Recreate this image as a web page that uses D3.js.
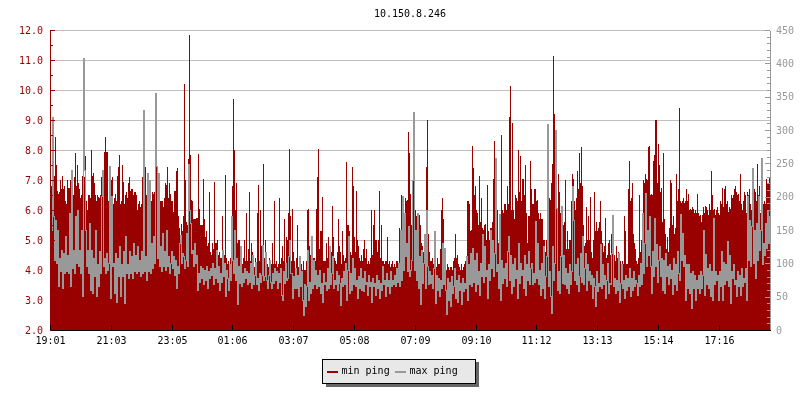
<!DOCTYPE html>
<html><head><meta charset="utf-8">
<script src="https://cdn.jsdelivr.net/npm/d3@7"></script>
<style>
html,body{margin:0;padding:0;background:#fff;}
svg{display:block;will-change:transform;}
text{font-family:"DejaVu Sans Mono",monospace;font-size:10px;}
</style></head><body>
<div id="c"></div>
<script>
const title = "10.150.8.246";
const seriesNames = ["min ping","max ping"];
const xTickLabels = ["19:01","21:03","23:05","01:06","03:07","05:08","07:09","09:10","11:12","13:13","15:14","17:16"];
const xTickMinutes = [0,122,244,364,486,608,730,852,972,1094,1216,1338];
const minPing = [
6.8,6.7,6.7,7.15,8.45,7.5,6.65,6.55,6.6,7.0,
6.7,7.15,6.7,6.8,6.3,6.2,7.0,6.75,6.75,7.0,
6.75,6.5,6.5,7.1,7.9,6.8,7.5,6.9,6.7,6.4,
6.5,7.15,7.1,7.1,7.8,6.3,6.0,6.5,6.5,6.4,
8.0,7.15,7.25,6.9,6.5,6.3,6.5,6.45,6.4,6.5,
7.1,6.9,7.25,7.95,8.45,7.95,7.95,6.3,6.1,6.6,
7.0,7.1,6.2,6.4,6.55,6.3,7.15,7.45,7.85,6.2,
6.3,7.5,6.95,6.2,6.5,6.6,6.4,6.9,7.1,6.65,
6.7,6.7,6.5,6.6,6.6,6.5,6.0,6.2,6.3,6.1,
6.2,7.1,7.1,7.1,7.45,6.5,6.4,6.2,6.7,6.2,
6.3,6.6,6.55,6.6,6.4,8.07,6.6,6.5,6.6,6.3,
6.3,6.3,6.1,6.4,6.9,6.85,7.45,6.4,6.9,6.55,
6.3,6.3,5.95,6.65,6.65,7.3,7.4,5.8,5.4,5.1,
5.55,5.3,5.8,10.2,7.0,5.6,5.5,7.7,11.85,7.85,
6.35,6.3,5.7,5.7,5.7,5.75,5.75,7.87,6.05,5.5,
5.5,5.5,7.05,5.7,5.1,5.3,4.8,4.9,6.6,4.6,
4.5,4.9,4.7,6.95,4.9,4.9,5.0,4.5,4.6,4.4,
4.4,5.8,4.4,4.5,7.17,4.4,4.2,4.3,4.1,4.4,
4.4,6.8,9.7,8.0,6.0,6.9,4.9,5.0,5.0,4.7,
4.4,4.2,4.4,5.0,4.3,5.9,4.3,4.7,6.6,4.3,
4.9,4.6,4.3,4.1,4.4,4.2,5.9,6.85,4.3,6.0,
4.8,4.2,7.55,4.4,5.0,4.3,4.2,4.1,4.4,4.1,
4.2,4.9,4.2,6.3,4.2,4.3,4.1,4.2,6.4,4.2,
4.4,4.8,4.3,5.7,4.2,5.1,5.0,5.9,8.05,5.8,
4.3,6.05,4.6,4.3,4.0,4.4,5.5,4.1,4.3,4.1,
4.2,4.0,4.3,4.0,4.0,4.3,6.0,6.05,4.8,4.5,
5.0,4.3,4.4,4.4,4.3,6.05,7.1,8.05,4.7,5.3,
5.3,6.45,4.3,4.3,4.3,4.9,4.4,5.1,4.8,4.5,
4.6,6.15,5.1,4.4,4.3,4.2,4.6,5.7,4.8,4.6,
4.2,5.3,4.5,4.3,4.4,7.6,5.5,5.5,5.3,4.6,
4.5,7.45,6.8,5.1,4.6,6.65,5.0,4.8,4.4,4.3,
4.5,4.3,4.7,5.0,4.4,4.7,4.2,4.3,4.2,4.4,
6.0,4.5,5.5,6.0,5.0,5.0,4.6,5.0,6.65,4.4,
5.5,4.3,4.3,4.2,4.3,4.3,5.1,4.2,4.3,4.1,
4.2,4.3,4.1,4.2,4.1,4.3,4.3,4.2,5.4,5.0,
6.5,5.6,6.05,5.7,6.4,6.3,6.35,8.6,7.9,6.55,
5.5,7.0,7.0,6.3,6.0,5.8,5.3,5.2,5.85,5.5,
4.9,4.8,4.6,5.2,5.0,7.45,9.0,5.2,4.6,4.3,
4.3,4.4,4.2,4.5,4.2,4.1,4.4,4.2,4.2,4.7,
6.0,6.4,5.7,4.7,4.1,4.0,4.2,4.1,4.0,4.1,
4.1,4.0,4.3,4.4,5.2,4.4,4.5,4.2,4.1,4.0,
4.2,4.0,4.1,4.2,4.3,4.4,6.3,6.3,6.2,5.3,
5.35,8.15,7.4,6.5,6.8,6.0,5.9,5.5,7.15,5.6,
6.4,5.4,5.35,5.5,5.55,5.0,6.85,5.3,5.0,5.4,
5.4,5.6,7.05,8.3,6.4,5.8,6.0,4.9,5.0,5.8,
8.5,6.0,5.9,6.2,6.2,6.0,6.8,6.2,9.1,10.15,
6.0,8.9,6.0,5.7,6.5,6.4,6.3,8.0,6.6,7.8,
6.3,7.05,7.05,6.5,7.5,5.9,4.9,5.8,5.8,7.65,
6.7,6.2,6.2,6.7,6.7,6.3,6.35,5.9,5.7,5.9,
5.7,5.7,5.0,5.0,4.6,5.0,6.0,6.6,6.4,6.35,
6.9,7.55,11.15,9.2,8.1,8.0,6.0,7.2,6.6,5.9,
5.9,5.7,5.5,5.6,7.0,4.7,5.3,4.7,5.0,5.0,
6.3,7.2,7.05,6.3,6.0,6.4,7.3,6.7,7.9,6.9,
8.1,6.8,5.5,4.8,4.9,6.1,5.0,5.8,5.0,6.45,
4.6,4.4,5.0,6.6,5.3,5.6,5.3,5.4,5.6,6.3,
5.3,4.9,4.6,4.8,5.75,4.4,4.5,4.9,5.0,4.5,
5.2,4.8,4.4,4.5,4.3,4.8,4.4,4.6,4.3,4.3,
4.2,4.3,4.2,5.8,5.3,4.2,4.2,6.7,7.65,6.3,
6.4,6.9,5.2,4.9,4.7,4.3,4.2,4.4,6.5,4.6,
5.0,4.9,7.0,6.9,7.2,7.05,7.0,8.1,8.15,6.5,
6.55,6.5,7.65,7.85,9.0,9.0,6.9,8.2,7.5,6.6,
6.75,5.6,7.9,5.7,5.2,4.7,5.1,4.6,5.4,7.0,
6.9,5.5,5.8,5.2,5.4,7.2,6.3,6.7,9.4,6.3,
6.25,6.3,6.4,6.25,6.3,6.7,6.3,6.55,6.0,6.05,
6.0,6.1,6.05,5.9,6.0,5.9,6.55,5.9,5.8,5.85,
5.6,5.85,6.1,5.9,6.15,6.1,6.0,5.85,6.2,6.0,
7.3,6.5,6.0,6.05,5.85,6.0,6.1,5.9,5.85,6.3,
6.2,6.75,6.1,6.7,6.8,6.2,6.3,5.95,6.1,6.05,
6.5,6.4,6.5,6.7,6.8,6.6,6.5,6.55,6.3,7.2,
6.2,6.0,6.3,6.6,6.5,5.9,6.6,6.5,6.7,6.2,
6.0,6.6,6.5,6.7,6.6,6.3,7.55,6.5,6.8,5.9,
6.0,5.9,6.2,6.3,6.2,7.05,6.9,6.9,7.1,7.0
];
const maxPing = [
150,319,170,105,165,100,150,65,108,88,
120,62,115,85,140,88,112,85,175,65,
240,92,120,85,170,100,180,95,120,85,
150,50,407,240,150,95,120,85,160,60,
120,55,108,80,150,50,98,65,118,85,
200,240,95,108,85,115,90,100,245,48,
200,95,100,55,115,42,108,80,125,50,
98,80,118,40,140,85,98,78,118,85,
110,78,130,88,112,85,125,88,105,80,
118,85,330,88,110,75,235,88,225,85,
130,92,140,100,355,245,108,235,95,125,
88,145,95,118,90,150,95,110,85,100,
118,92,110,82,105,62,95,85,130,142,
100,115,110,92,105,145,95,248,180,160,
115,120,95,130,100,112,60,85,72,95,
78,92,68,90,75,95,62,88,78,92,
82,100,68,92,78,120,72,95,60,85,
72,120,80,100,50,90,78,60,98,75,
170,105,85,150,75,108,38,95,70,125,
65,85,72,92,78,88,68,85,72,100,
62,112,68,82,102,68,78,60,85,72,
82,127,75,80,117,75,62,82,105,72,
62,85,70,92,75,88,62,85,72,92,
52,45,88,70,100,75,78,110,135,85,
85,48,80,62,92,62,82,50,110,65,
88,45,22,68,35,65,120,45,72,55,
140,62,105,68,90,62,82,65,90,55,
70,42,85,68,72,60,92,62,125,68,
85,110,62,75,68,88,60,82,70,37,
78,65,88,68,100,45,90,140,55,85,
60,107,68,92,65,75,48,80,62,92,
60,78,58,88,68,72,52,82,65,72,
42,78,65,70,52,82,62,75,48,70,
60,95,68,75,50,85,65,75,55,88,
65,75,68,82,65,92,72,100,65,150,
75,200,90,175,110,130,88,155,80,90,
105,225,326,90,150,75,175,62,110,38,
120,70,100,143,62,180,95,68,88,70,
82,62,92,148,40,82,60,78,50,75,
62,130,68,123,60,23,78,45,72,35,
80,55,65,92,48,75,42,82,60,70,
38,78,58,70,62,110,45,98,68,115,
65,123,72,105,58,115,68,88,52,100,
80,143,72,125,80,90,48,98,75,150,
92,135,80,115,258,88,98,62,173,45,
105,70,92,78,100,65,118,141,75,112,
55,98,65,108,78,90,48,130,70,100,
82,90,62,112,52,98,75,118,68,92,
100,68,85,72,163,78,130,68,90,52,
100,62,125,48,80,110,308,65,88,50,
25,125,75,100,300,183,60,88,55,110,
185,70,112,68,92,62,85,55,98,68,
88,215,165,75,98,68,108,58,80,115,
72,140,68,92,115,60,98,75,88,68,
82,48,78,65,35,88,58,70,65,128,
62,98,68,82,48,75,100,55,70,68,
115,172,65,78,55,75,60,115,42,70,
98,62,75,48,82,60,78,65,92,50,
78,60,88,65,75,70,52,82,65,100,
68,175,85,130,205,95,150,112,170,95,
55,118,80,168,95,128,72,105,125,80,
108,60,105,55,115,80,95,68,98,78,
90,53,108,68,98,60,118,85,75,173,
105,145,95,112,45,98,62,98,55,85,
33,88,62,82,45,75,62,82,55,88,
62,82,150,52,113,68,92,62,98,50,
88,45,168,68,88,75,82,45,88,65,
118,45,102,68,98,75,133,65,112,40,
88,78,98,68,75,50,88,65,82,52,
92,65,78,72,92,45,200,105,165,95,
155,243,100,150,78,160,105,200,120,150,
258,98,130,112,160,122,180,130,170,125
];
const minTicks = d3.range(2,12.5,1);
const minSubTicks = d3.range(2,12.5,0.5);
const maxTicks = d3.range(0,451,50);
const maxSubTicks = d3.range(0,451,10);

const RED="#990000", GREY="#999999";
const svg=d3.select("#c").append("svg").attr("width",800).attr("height",400);
const x=d3.scaleLinear().domain([0,1440]).range([50,770]);
const yL=d3.scaleLinear().domain([2,12]).range([330,30]);
const yR=d3.scaleLinear().domain([0,450]).range([330,30]);
const minute=i=>(i+1)*2;

svg.append("text").attr("x",410).attr("y",16.5).attr("text-anchor","middle").attr("fill","#000").text(title);

// grid
svg.append("g").attr("transform","translate(50,0)")
  .call(d3.axisLeft(yL).tickValues(minTicks.filter(d=>d>2)).tickSize(-720).tickFormat(""))
  .call(g=>g.select(".domain").remove())
  .call(g=>g.selectAll("line").attr("stroke","#c0c0c0").attr("shape-rendering","crispEdges"));

// min ping area
const area=d3.area().x((d,i)=>x(minute(i))).y0(yL(2)).y1(d=>yL(d)).curve(d3.curveStepAfter);
svg.append("path").datum([...minPing,minPing[minPing.length-1]]).attr("d",area).attr("fill",RED).attr("shape-rendering","crispEdges");

// max ping line
const line=d3.line().x((d,i)=>x(minute(i))+0.5).y(d=>yR(d)).curve(d3.curveStepAfter);
svg.append("path").datum(maxPing).attr("d",line).attr("fill","none").attr("stroke",GREY).attr("stroke-width",1).attr("shape-rendering","crispEdges");

function styleAxis(g,col){
  g.selectAll("path,line").attr("stroke",col).attr("shape-rendering","crispEdges");
  g.selectAll("text").attr("fill",col).style("font-family",'"DejaVu Sans Mono",monospace').style("font-size","10px");
}
// left axis
svg.append("g").attr("transform","translate(50,0)")
  .call(d3.axisLeft(yL).tickValues(minSubTicks).tickSize(-3).tickSizeOuter(0).tickFormat(""))
  .call(styleAxis,RED);
svg.append("g").attr("transform","translate(50,0)")
  .call(d3.axisLeft(yL).tickValues(minTicks).tickSize(-5).tickSizeOuter(0).tickPadding(7).tickFormat(d3.format(".1f")))
  .call(styleAxis,RED);
// right axis
svg.append("g").attr("transform","translate(770,0)")
  .call(d3.axisRight(yR).tickValues(maxSubTicks).tickSize(-3).tickSizeOuter(0).tickFormat(""))
  .call(styleAxis,GREY);
svg.append("g").attr("transform","translate(770,0)")
  .call(d3.axisRight(yR).tickValues(maxTicks).tickSize(-5).tickSizeOuter(0).tickPadding(6))
  .call(styleAxis,GREY);
// bottom axis
svg.append("g").attr("transform","translate(0,330)")
  .call(d3.axisBottom(x).tickValues(xTickMinutes).tickSize(-5).tickSizeOuter(0).tickPadding(7)
    .tickFormat((d,i)=>xTickLabels[i]))
  .call(styleAxis,"#000");

// legend
const lg=svg.append("g");
lg.append("rect").attr("x",326).attr("y",362).attr("width",153).attr("height",25).attr("fill","#666666");
lg.append("rect").attr("x",322.5).attr("y",359.5).attr("width",153).attr("height",24).attr("fill","#e8e8e8").attr("stroke","#000").attr("shape-rendering","crispEdges");
[[327,RED,341.5],[395,GREY,409.5]].forEach((p,i)=>{
  lg.append("rect").attr("x",p[0]).attr("y",371).attr("width",11).attr("height",2).attr("fill",p[1]);
  lg.append("text").attr("x",p[2]).attr("y",374).attr("fill","#000").text(seriesNames[i]);
});
</script>
</body></html>
